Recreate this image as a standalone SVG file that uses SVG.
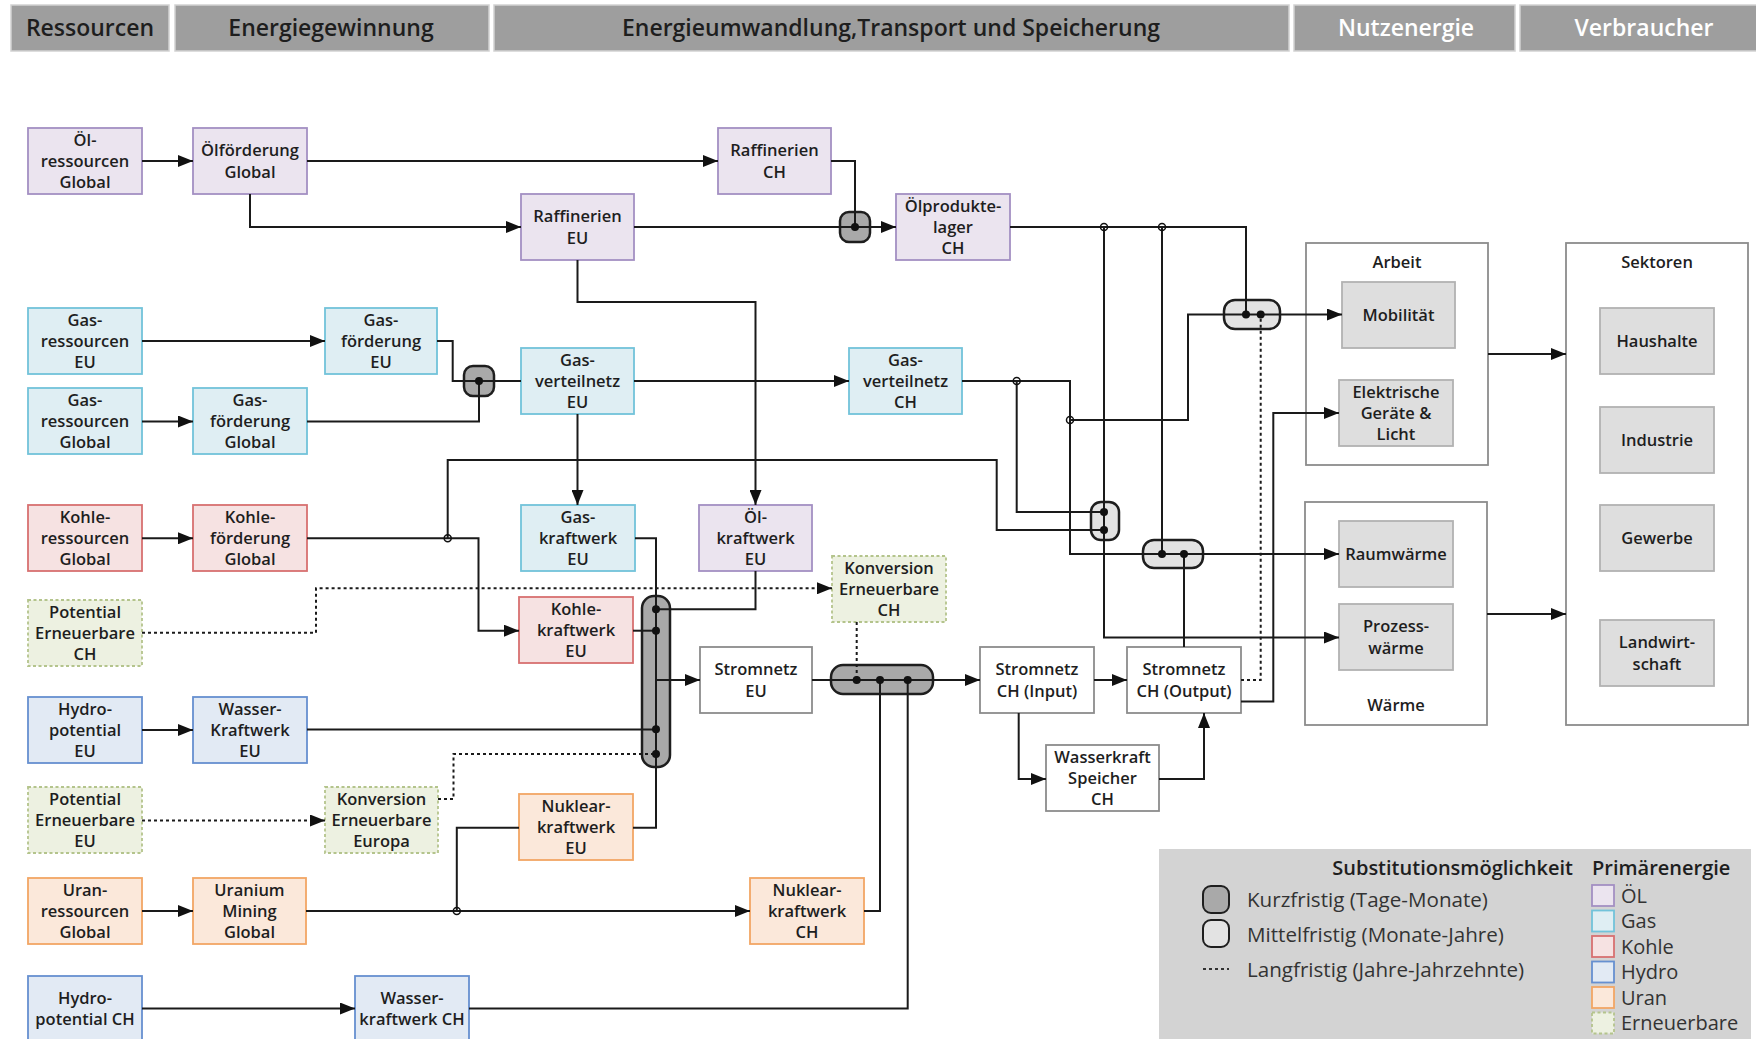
<svg xmlns="http://www.w3.org/2000/svg" width="1756" height="1039" viewBox="0 0 1756 1039">
<defs>
<style>
text{font-family:"Open Sans","Noto Sans","DejaVu Sans",sans-serif}
.hd rect{fill:#9e9e9e;stroke:#d2d2d2;stroke-width:1.5}
.hd text{font-size:23px;font-weight:600;text-anchor:middle;fill:#1e1e1e}
.hd text.w{fill:#ffffff}
.node rect{stroke-width:1.8}
.node text{font-size:16.5px;font-weight:600;text-anchor:middle;fill:#1e1e1e}
.oil rect{fill:#ebe4ef;stroke:#a38fc3}
.gas rect{fill:#dfeef3;stroke:#72c3da}
.coal rect{fill:#f6e2e2;stroke:#d87070}
.hydro rect{fill:#e2eaf4;stroke:#6690d0}
.uran rect{fill:#fbe8da;stroke:#f2a664}
.ren rect{fill:#edf1e1;stroke:#b4c48c;stroke-dasharray:3 2.5}
.grid rect{fill:#ffffff;stroke:#8c8c8c}
.use rect{fill:#dedede;stroke:#b2b2b2}
.box rect{fill:#ffffff;stroke:#8c8c8c;stroke-width:1.8}
.box text{font-size:16.5px;font-weight:600;text-anchor:middle;fill:#1e1e1e}
.hub rect{stroke:#1e1e1e;stroke-width:2.5}
.hub.short rect{fill:#a9a9a9}
.hub.mid rect{fill:#e3e3e3}
#connectors path{fill:none;stroke:#1a1a1a;stroke-width:2}
#connectors path.arr{marker-end:url(#ah)}
#connectors path.dot{stroke-dasharray:3 3}
#joints circle.on{fill:#111}
#joints circle.tap{fill:none;stroke:#111;stroke-width:1.5}
#legend text{font-size:20px;fill:#333}
#legend text.k{font-size:20.6px}
#legend text.t{font-weight:600;fill:#1e1e1e}
#legend rect.sw{stroke-width:1.8}
</style>
<marker id="ah" markerUnits="userSpaceOnUse" markerWidth="15" markerHeight="12" refX="15" refY="6" orient="auto">
<path d="M0,0 L15,6 L0,12 Z" fill="#111"/>
</marker>
</defs>
<rect width="1756" height="1039" fill="#ffffff"/>

<!-- column headers -->
<g id="headers" class="hd">
<rect x="11" y="5" width="158" height="46"/>
<text x="90" y="36">Ressourcen</text>
<rect x="175" y="5" width="314" height="46"/>
<text x="331" y="36">Energiegewinnung</text>
<rect x="494" y="5" width="795" height="46"/>
<text x="891" y="36">Energieumwandlung,Transport und Speicherung</text>
<rect x="1294" y="5" width="221" height="46"/>
<text class="w" x="1406" y="36">Nutzenergie</text>
<rect x="1520" y="5" width="240" height="46"/>
<text class="w" x="1644" y="36">Verbraucher</text>
</g>

<!-- consumer groups -->
<g id="arbeit" class="box"><rect x="1306" y="243" width="182" height="222"/><text x="1397" y="268">Arbeit</text></g>
<g id="waerme" class="box"><rect x="1305" y="502" width="182" height="223"/><text x="1396" y="711">Wärme</text></g>
<g id="sektoren" class="box"><rect x="1566" y="243" width="182" height="482"/><text x="1657" y="268">Sektoren</text></g>

<!-- oil chain -->
<g id="oel-ressourcen" class="node oil"><rect x="28" y="128" width="114" height="66"/><text x="85" y="146">Öl-</text><text x="85" y="167">ressourcen</text><text x="85" y="188">Global</text></g>
<g id="oelfoerderung" class="node oil"><rect x="193" y="128" width="114" height="66"/><text x="250" y="156">Ölförderung</text><text x="250" y="178">Global</text></g>
<g id="raffinerien-ch" class="node oil"><rect x="718" y="128" width="113" height="66"/><text x="774.5" y="156">Raffinerien</text><text x="774.5" y="178">CH</text></g>
<g id="raffinerien-eu" class="node oil"><rect x="521" y="194" width="113" height="66"/><text x="577.5" y="222">Raffinerien</text><text x="577.5" y="244">EU</text></g>
<g id="oelproduktelager" class="node oil"><rect x="896" y="194" width="114" height="66"/><text x="953" y="212">Ölprodukte-</text><text x="953" y="233">lager</text><text x="953" y="254">CH</text></g>

<!-- gas chain -->
<g id="gas-ressourcen-eu" class="node gas"><rect x="28" y="308" width="114" height="66"/><text x="85" y="326">Gas-</text><text x="85" y="347">ressourcen</text><text x="85" y="368">EU</text></g>
<g id="gasfoerderung-eu" class="node gas"><rect x="325" y="308" width="112" height="66"/><text x="381" y="326">Gas-</text><text x="381" y="347">förderung</text><text x="381" y="368">EU</text></g>
<g id="gas-ressourcen-global" class="node gas"><rect x="28" y="388" width="114" height="66"/><text x="85" y="406">Gas-</text><text x="85" y="427">ressourcen</text><text x="85" y="448">Global</text></g>
<g id="gasfoerderung-global" class="node gas"><rect x="193" y="388" width="114" height="66"/><text x="250" y="406">Gas-</text><text x="250" y="427">förderung</text><text x="250" y="448">Global</text></g>
<g id="gasverteilnetz-eu" class="node gas"><rect x="521" y="348" width="113" height="66"/><text x="577.5" y="366">Gas-</text><text x="577.5" y="387">verteilnetz</text><text x="577.5" y="408">EU</text></g>
<g id="gasverteilnetz-ch" class="node gas"><rect x="849" y="348" width="113" height="66"/><text x="905.5" y="366">Gas-</text><text x="905.5" y="387">verteilnetz</text><text x="905.5" y="408">CH</text></g>

<!-- coal chain -->
<g id="kohle-ressourcen" class="node coal"><rect x="28" y="505" width="114" height="66"/><text x="85" y="523">Kohle-</text><text x="85" y="544">ressourcen</text><text x="85" y="565">Global</text></g>
<g id="kohlefoerderung" class="node coal"><rect x="193" y="505" width="114" height="66"/><text x="250" y="523">Kohle-</text><text x="250" y="544">förderung</text><text x="250" y="565">Global</text></g>

<!-- power plants EU -->
<g id="gaskraftwerk-eu" class="node gas"><rect x="521" y="505" width="114" height="66"/><text x="578" y="523">Gas-</text><text x="578" y="544">kraftwerk</text><text x="578" y="565">EU</text></g>
<g id="oelkraftwerk-eu" class="node oil"><rect x="699" y="505" width="113" height="66"/><text x="755.5" y="523">Öl-</text><text x="755.5" y="544">kraftwerk</text><text x="755.5" y="565">EU</text></g>
<g id="kohlekraftwerk-eu" class="node coal"><rect x="519" y="597" width="114" height="66"/><text x="576" y="615">Kohle-</text><text x="576" y="636">kraftwerk</text><text x="576" y="657">EU</text></g>
<g id="nuklearkraftwerk-eu" class="node uran"><rect x="519" y="794" width="114" height="66"/><text x="576" y="812">Nuklear-</text><text x="576" y="833">kraftwerk</text><text x="576" y="854">EU</text></g>

<!-- renewables -->
<g id="potential-ch" class="node ren"><rect x="28" y="600" width="114" height="66"/><text x="85" y="618">Potential</text><text x="85" y="639">Erneuerbare</text><text x="85" y="660">CH</text></g>
<g id="konversion-ch" class="node ren"><rect x="832" y="556" width="114" height="66"/><text x="889" y="574">Konversion</text><text x="889" y="595">Erneuerbare</text><text x="889" y="616">CH</text></g>
<g id="potential-eu" class="node ren"><rect x="28" y="787" width="114" height="66"/><text x="85" y="805">Potential</text><text x="85" y="826">Erneuerbare</text><text x="85" y="847">EU</text></g>
<g id="konversion-europa" class="node ren"><rect x="325" y="787" width="113" height="66"/><text x="381.5" y="805">Konversion</text><text x="381.5" y="826">Erneuerbare</text><text x="381.5" y="847">Europa</text></g>

<!-- hydro and uranium -->
<g id="hydro-eu" class="node hydro"><rect x="28" y="697" width="114" height="66"/><text x="85" y="715">Hydro-</text><text x="85" y="736">potential</text><text x="85" y="757">EU</text></g>
<g id="wasserkraftwerk-eu" class="node hydro"><rect x="193" y="697" width="114" height="66"/><text x="250" y="715">Wasser-</text><text x="250" y="736">Kraftwerk</text><text x="250" y="757">EU</text></g>
<g id="uran-ressourcen" class="node uran"><rect x="28" y="878" width="114" height="66"/><text x="85" y="896">Uran-</text><text x="85" y="917">ressourcen</text><text x="85" y="938">Global</text></g>
<g id="uranium-mining" class="node uran"><rect x="193" y="878" width="113" height="66"/><text x="249.5" y="896">Uranium</text><text x="249.5" y="917">Mining</text><text x="249.5" y="938">Global</text></g>
<g id="nuklearkraftwerk-ch" class="node uran"><rect x="750" y="878" width="114" height="66"/><text x="807" y="896">Nuklear-</text><text x="807" y="917">kraftwerk</text><text x="807" y="938">CH</text></g>
<g id="hydro-ch" class="node hydro"><rect x="28" y="976" width="114" height="80"/><text x="85" y="1004">Hydro-</text><text x="85" y="1025">potential CH</text></g>
<g id="wasserkraftwerk-ch" class="node hydro"><rect x="355" y="976" width="114" height="80"/><text x="412" y="1004">Wasser-</text><text x="412" y="1025">kraftwerk CH</text></g>

<!-- electricity grid -->
<g id="stromnetz-eu" class="node grid"><rect x="700" y="647" width="112" height="66"/><text x="756" y="675">Stromnetz</text><text x="756" y="697">EU</text></g>
<g id="stromnetz-ch-input" class="node grid"><rect x="980" y="647" width="114" height="66"/><text x="1037" y="675">Stromnetz</text><text x="1037" y="697">CH (Input)</text></g>
<g id="stromnetz-ch-output" class="node grid"><rect x="1127" y="647" width="114" height="66"/><text x="1184" y="675">Stromnetz</text><text x="1184" y="697">CH (Output)</text></g>
<g id="wasserkraft-speicher" class="node grid"><rect x="1046" y="745" width="113" height="66"/><text x="1102.5" y="763">Wasserkraft</text><text x="1102.5" y="784">Speicher</text><text x="1102.5" y="805">CH</text></g>

<!-- useful energy -->
<g id="mobilitaet" class="node use"><rect x="1342" y="282" width="113" height="66"/><text x="1398.5" y="321">Mobilität</text></g>
<g id="elektrische-geraete" class="node use"><rect x="1339" y="380" width="114" height="66"/><text x="1396" y="398">Elektrische</text><text x="1396" y="419">Geräte &amp;</text><text x="1396" y="440">Licht</text></g>
<g id="raumwaerme" class="node use"><rect x="1339" y="521" width="114" height="66"/><text x="1396" y="560">Raumwärme</text></g>
<g id="prozesswaerme" class="node use"><rect x="1339" y="604" width="114" height="66"/><text x="1396" y="632">Prozess-</text><text x="1396" y="654">wärme</text></g>

<!-- sectors -->
<g id="haushalte" class="node use"><rect x="1600" y="308" width="114" height="66"/><text x="1657" y="347">Haushalte</text></g>
<g id="industrie" class="node use"><rect x="1600" y="407" width="114" height="66"/><text x="1657" y="446">Industrie</text></g>
<g id="gewerbe" class="node use"><rect x="1600" y="505" width="114" height="66"/><text x="1657" y="544">Gewerbe</text></g>
<g id="landwirtschaft" class="node use"><rect x="1600" y="620" width="114" height="66"/><text x="1657" y="648">Landwirt-</text><text x="1657" y="670">schaft</text></g>

<!-- substitution hubs -->
<g id="hub-oel" class="hub short"><rect x="840" y="212" width="30" height="30" rx="9"/></g>
<g id="hub-gas" class="hub short"><rect x="464" y="366" width="30" height="30" rx="9"/></g>
<g id="hub-strom-eu" class="hub short"><rect x="642" y="596" width="28" height="171" rx="12"/></g>
<g id="hub-strom-ch" class="hub short"><rect x="831" y="665" width="102" height="29" rx="12"/></g>
<g id="hub-prozess" class="hub mid"><rect x="1091" y="502" width="28" height="38" rx="10"/></g>
<g id="hub-raum" class="hub mid"><rect x="1143" y="540" width="60" height="28" rx="11"/></g>
<g id="hub-mobil" class="hub mid"><rect x="1224" y="300" width="56" height="29" rx="11"/></g>

<g id="connectors">
<path class="arr" d="M142,161 H193"/>
<path class="arr" d="M307,161 H718"/>
<path class="arr" d="M250,194 V227 H521"/>
<path d="M831,161 H855 V227"/>
<path class="arr" d="M634,227 H896"/>
<path class="arr" d="M577.5,260 V302 H755.5 V505"/>
<path d="M1010,227 H1246 V314.5"/>
<path class="arr" d="M1104,227 V637.5 H1339"/>
<path d="M1162,227 V554"/>
<path class="arr" d="M962,381 H1070 V554 H1339"/>
<path d="M1016.7,381 V512 H1104"/>
<path class="arr" d="M1070,420 H1188 V314.5 H1342"/>
<path d="M447.7,538.3 V460 H996.7 V530 H1104"/>
<path d="M1184,647 V554"/>
<path class="dot" d="M1241,680 H1260.7 V314.5"/>
<path class="arr" d="M1241,701.5 H1273.3 V413 H1339"/>
<path class="arr" d="M142,341 H325"/>
<path d="M437,341 H452.7 V381 H521"/>
<path class="arr" d="M142,421.5 H193"/>
<path d="M307,421.5 H479 V381"/>
<path class="arr" d="M634,381 H849"/>
<path class="arr" d="M577.5,414 V505"/>
<path class="arr" d="M142,538.3 H193"/>
<path class="arr" d="M307,538.3 H478.5 V630.7 H519"/>
<path d="M635,538.3 H656 V827.7 H633"/>
<path d="M755.5,571 V609.3 H656"/>
<path d="M633,630.7 H656"/>
<path class="arr" d="M656,680 H700"/>
<path d="M307,729.5 H656"/>
<path class="dot" d="M438,799 H453.5 V754 H656"/>
<path class="dot arr" d="M142,632.7 H316 V588.3 H832"/>
<path class="dot arr" d="M142,820.5 H325"/>
<path class="dot" d="M856.7,622 V680"/>
<path class="arr" d="M812,680 H980"/>
<path class="arr" d="M1094,680 H1127"/>
<path class="arr" d="M1018.7,713 V779 H1046"/>
<path class="arr" d="M1159,779 H1204 V713"/>
<path class="arr" d="M142,911 H193"/>
<path class="arr" d="M306,911 H750"/>
<path d="M456.8,911 V827.7 H519"/>
<path d="M864,911 H880 V680"/>
<path class="arr" d="M142,1008.5 H355"/>
<path d="M469,1008.5 H907.7 V680"/>
<path class="arr" d="M142,730 H193"/>
<path class="arr" d="M1488,354 H1566"/>
<path class="arr" d="M1487,614 H1566"/>
</g>

<g id="joints">
<circle class="on" cx="855" cy="227" r="4"/>
<circle class="on" cx="479" cy="381" r="4"/>
<circle class="on" cx="656" cy="609.3" r="4"/>
<circle class="on" cx="656" cy="630.7" r="4"/>
<circle class="on" cx="656" cy="729.3" r="4"/>
<circle class="on" cx="656" cy="754" r="4"/>
<circle class="on" cx="856.7" cy="680" r="4"/>
<circle class="on" cx="880" cy="680" r="4"/>
<circle class="on" cx="907.7" cy="680" r="4"/>
<circle class="on" cx="1104" cy="512" r="4"/>
<circle class="on" cx="1104" cy="530" r="4"/>
<circle class="on" cx="1162" cy="554" r="4"/>
<circle class="on" cx="1184" cy="554" r="4"/>
<circle class="on" cx="1246" cy="314.5" r="4"/>
<circle class="on" cx="1260.7" cy="314.5" r="4"/>
<circle class="tap" cx="1104" cy="227" r="3.5"/>
<circle class="tap" cx="1162" cy="227" r="3.5"/>
<circle class="tap" cx="1016.7" cy="381" r="3.5"/>
<circle class="tap" cx="1070" cy="420" r="3.5"/>
<circle class="tap" cx="447.7" cy="538.3" r="3.5"/>
<circle class="tap" cx="456.8" cy="911" r="3.5"/>
</g>

<!-- key -->
<g id="legend">
<rect x="1159" y="849" width="592" height="200" fill="#d3d3d3"/>
<text class="t" x="1573" y="875" text-anchor="end">Substitutionsmöglichkeit</text>
<text class="t" x="1592" y="875">Primärenergie</text>
<rect x="1203" y="886" width="26" height="27" rx="8" fill="#a9a9a9" stroke="#1e1e1e" stroke-width="2"/>
<text class="k" x="1247" y="907">Kurzfristig (Tage-Monate)</text>
<rect x="1203" y="920" width="26" height="27" rx="8" fill="#e3e3e3" stroke="#1e1e1e" stroke-width="2"/>
<text class="k" x="1247" y="942">Mittelfristig (Monate-Jahre)</text>
<line x1="1203" y1="969" x2="1229" y2="969" stroke="#333" stroke-width="1.8" stroke-dasharray="3 3"/>
<text class="k" x="1247" y="977">Langfristig (Jahre-Jahrzehnte)</text>
<rect class="sw" x="1592" y="885" width="22" height="21" fill="#ebe4ef" stroke="#a38fc3"/>
<text x="1621" y="903">ÖL</text>
<rect class="sw" x="1592" y="910.5" width="22" height="21" fill="#dfeef3" stroke="#72c3da"/>
<text x="1621" y="928">Gas</text>
<rect class="sw" x="1592" y="936" width="22" height="21" fill="#f6e2e2" stroke="#d87070"/>
<text x="1621" y="953.5">Kohle</text>
<rect class="sw" x="1592" y="961.5" width="22" height="21" fill="#e2eaf4" stroke="#6690d0"/>
<text x="1621" y="979">Hydro</text>
<rect class="sw" x="1592" y="987" width="22" height="21" fill="#fbe8da" stroke="#f2a664"/>
<text x="1621" y="1004.5">Uran</text>
<rect class="sw" x="1592" y="1012.5" width="22" height="21" fill="#edf1e1" stroke="#b4c48c" stroke-dasharray="3 2.5"/>
<text x="1621" y="1030">Erneuerbare</text>
</g>
</svg>
